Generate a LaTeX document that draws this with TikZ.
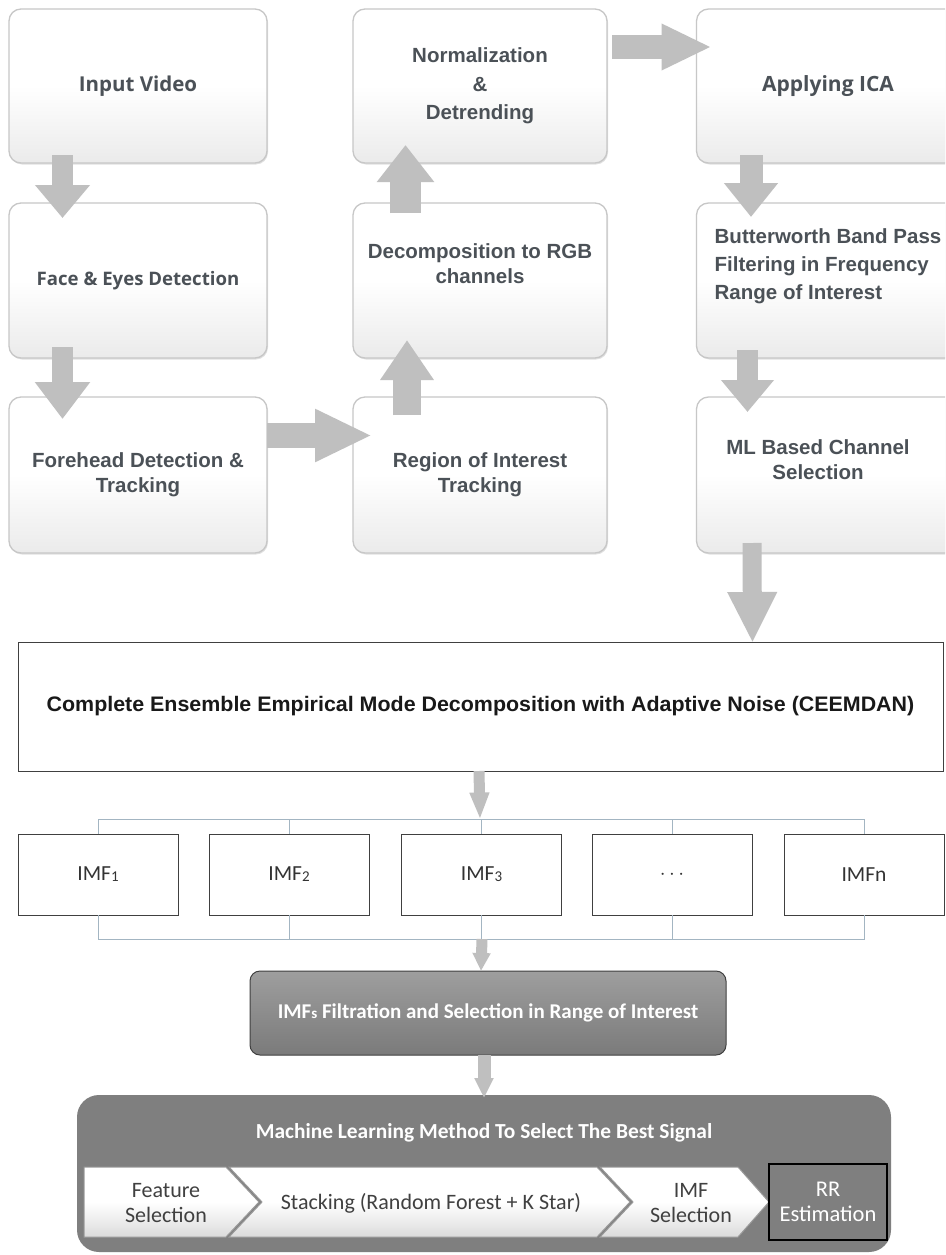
\documentclass[tikz,border=0pt]{standalone}
\usepackage{fontspec}
\setmainfont{Liberation Sans}
\newfontfamily\osans{Open Sans}
\newfontfamily\carl{Carlito}
\usetikzlibrary{arrows.meta,calc,shadows}
\definecolor{txtc}{HTML}{4B5157}
\definecolor{arrc}{HTML}{BFBFBF}
\definecolor{brkc}{HTML}{A3B5C2}
\definecolor{dkc}{HTML}{7F7F7F}
\definecolor{edgec}{HTML}{404040}
\begin{document}
\begin{tikzpicture}[x=1pt,y=1pt,
  topbox/.style={rectangle, rounded corners=12pt, draw=black!22, line width=1.3pt,
    top color=white, bottom color=black!8, middle color=white, outer sep=0pt, inner sep=4pt,
    drop shadow={shadow xshift=1pt, shadow yshift=-1.5pt, fill=black, opacity=0.12},
    text=txtc, align=center, font=\fontsize{20.5}{25}\selectfont\bfseries},
  osfont/.style={font=\osans\fontsize{#1}{24}\selectfont\bfseries},
  blockarrow/.style n args={3}{draw=arrc, line width=#1, -{Triangle[width=#2,length=#3]}},
  thinarrow/.style={draw=arrc, line width=11pt, -{Triangle[width=17pt,length=18pt]}},
  imfbox/.style={rectangle, draw=edgec, line width=1pt, fill=white, minimum width=160pt,
    minimum height=81pt, outer sep=0pt, font=\carl\fontsize{21.5}{24}\selectfont, text=black!80},
  brk/.style={draw=brkc, line width=1pt},
  chev/.style={draw=black!40, line width=1pt, top color=white, bottom color=black!14, middle color=white},
  chevtext/.style={align=center, text=black!75, font=\carl\fontsize{22}{25}\selectfont}
]
\clip (0,0) rectangle (945,-1255);
\fill[white] (0,0) rectangle (945,-1255);

% ---------- top boxes ----------
\node[topbox, osfont=20.5, minimum width=258pt, minimum height=154pt] (in) at (138,-86) {Input Video};
\node[topbox, osfont=18.6, minimum width=258pt, minimum height=155pt] (face) at (138,-280.5) {Face \& Eyes Detection};
\node[topbox, minimum width=258pt, minimum height=156pt] (fore) at (138,-475) {Forehead Detection \&\\Tracking};
\node[topbox, minimum width=254pt, minimum height=154pt, font=\fontsize{20.5}{28.5}\selectfont\bfseries] (norm) at (480,-86) {Normalization\\\&\\Detrending};
\node[topbox, minimum width=254pt, minimum height=155pt] (dec) at (480,-280.5) {Decomposition to RGB\\channels\\[8pt]};
\node[topbox, minimum width=254pt, minimum height=156pt] (roi) at (480,-475) {Region of Interest\\Tracking};
\node[topbox, osfont=21, minimum width=263pt, minimum height=154pt] (ica) at (828,-86) {Applying ICA};
\node[topbox, minimum width=263pt, minimum height=155pt, align=left, font=\fontsize{20.5}{28}\selectfont\bfseries] (bw) at (828,-280.5) {Butterworth Band Pass\\Filtering in Frequency\\Range of Interest\\[4pt]};
\node[topbox, minimum width=263pt, minimum height=156pt] (ml) at (828,-475) {\hspace*{-20pt}ML Based Channel\\\hspace*{-20pt}Selection\\[6pt]};

% ---------- CEEMDAN ----------
\node[rectangle, draw=edgec, line width=1pt, fill=white, minimum width=925pt, minimum height=129pt,
  outer sep=0pt, text=black!90, font=\fontsize{21}{24}\selectfont\bfseries] (ceem) at (480.5,-706.5)
  {\scalebox{1.02}[1]{Complete Ensemble Empirical Mode Decomposition with Adaptive Noise (CEEMDAN)}};

% ---------- block arrows ----------
\draw[blockarrow={21pt}{53pt}{33pt}] ([xshift=53.5pt,yshift=8pt]in.south west) -- ([xshift=53.5pt,yshift=-15pt]face.north west);
\draw[blockarrow={21pt}{53pt}{37pt}] ([xshift=53.5pt,yshift=11pt]face.south west) -- ([xshift=53.5pt,yshift=-22pt]fore.north west);
\draw[blockarrow={25pt}{49pt}{57pt}] ([yshift=39.5pt]fore.east) -- ([xshift=19pt,yshift=39.5pt]roi.west);
\draw[blockarrow={28pt}{51pt}{40pt}] ([xshift=54pt,yshift=-18pt]roi.north west) -- ([xshift=54pt,yshift=18pt]dec.south west);
\draw[blockarrow={31pt}{55pt}{37pt}] ([xshift=52.5pt,yshift=-10pt]dec.north west) -- ([xshift=52.5pt,yshift=18pt]norm.south west);
\draw[blockarrow={24pt}{43pt}{50pt}] ([xshift=5pt,yshift=39pt]norm.east) -- ([xshift=15pt,yshift=39pt]ica.west);
\draw[blockarrow={23pt}{52pt}{34pt}] ([xshift=54.5pt,yshift=8pt]ica.south west) -- ([xshift=54.5pt,yshift=-14pt]bw.north west);
\draw[blockarrow={21pt}{51pt}{32pt}] ([xshift=51pt,yshift=8pt]bw.south west) -- ([xshift=51pt,yshift=-15pt]ml.north west);
\draw[blockarrow={19pt}{46pt}{51pt}] ([xshift=55.5pt,yshift=10pt]ml.south west) -- ([xshift=734.5pt,yshift=-1pt]ceem.north west);

% ---------- IMF boxes ----------
\coordinate (tb) at (480,-819.5);
\coordinate (bb) at (482,-939);
\node[imfbox] (imf1) at (98,-874.5) {IMF\raisebox{-1pt}{\fontsize{15}{15}\selectfont 1}};
\node[imfbox] (imf2) at (289,-874.5) {IMF\raisebox{-1pt}{\fontsize{15}{15}\selectfont 2}};
\node[imfbox] (imf3) at (481.5,-874.5) {IMF\raisebox{-1pt}{\fontsize{15}{15}\selectfont 3}};
\node[imfbox] (imf4) at (672,-874.5) {$\cdots$};
\node[imfbox] (imfn) at (864,-874.5) {IMFn};

\draw[brk] (imf1.north) -- (imf1.north |- tb) -- (imfn.north |- tb) -- (imfn.north);
\foreach \n in {imf2,imf3,imf4} \draw[brk] (\n.north) -- (\n.north |- tb);
\draw[brk] (imf1.south) -- (imf1.south |- bb) -- (imfn.south |- bb) -- (imfn.south);
\foreach \n in {imf2,imf3,imf4} \draw[brk] (\n.south) -- (\n.south |- bb);

\draw[thinarrow, -{Triangle[width=18pt,length=27pt]}] ([xshift=-1.5pt]ceem.south) -- (tb);

% ---------- filtration ----------
\node[rectangle, rounded corners=10pt, draw=black!75, line width=1pt, top color=black!38, bottom color=black!52,
  minimum width=476pt, minimum height=84pt, outer sep=0pt, text=white,
  font=\carl\fontsize{21}{24}\selectfont\bfseries] (filt) at (488,-1013)
  {IMF{\fontsize{15}{15}\selectfont s} Filtration and Selection in Range of Interest};
\draw[thinarrow] (bb) -- ([xshift=-7pt]filt.north);

% ---------- machine learning block ----------
\node[rectangle, rounded corners=22pt, fill=dkc, minimum width=814pt, minimum height=157pt, outer sep=0pt] (mlbig) at (484,-1173.5) {};
\draw[thinarrow, line width=13pt, -{Triangle[width=18pt,length=20pt]}] ([xshift=-4pt]filt.south) -- ([yshift=-3pt]mlbig.north);
\node[text=white, font=\carl\fontsize{21.4}{24}\selectfont\bfseries] (mltitle) at (484,-1133) {Machine Learning Method To Select The Best Signal};

\path[chev] (84,-1167) -- (226,-1167) -- (259,-1202) -- (226,-1237) -- (84,-1237) -- cycle;
\path[chev] (229,-1167) -- (597,-1167) -- (630,-1202) -- (597,-1237) -- (229,-1237) -- (262,-1202) -- cycle;
\path[chev] (600,-1167) -- (738,-1167) -- (769,-1202) -- (738,-1237) -- (600,-1237) -- (633,-1202) -- cycle;
\node[chevtext] (fs) at (166,-1203) {Feature\\Selection};
\node[chevtext] (stk) at (431,-1203) {Stacking (Random Forest + K Star)};
\node[chevtext] (ims) at (691,-1203) {IMF\\Selection};
\node[rectangle, draw=black, line width=2.5pt, fill=dkc, minimum width=118pt, minimum height=76pt, outer sep=0pt,
  align=center, text=white, font=\carl\fontsize{22.5}{25}\selectfont] (rr) at (828,-1202) {RR\\Estimation};
\end{tikzpicture}
\end{document}
